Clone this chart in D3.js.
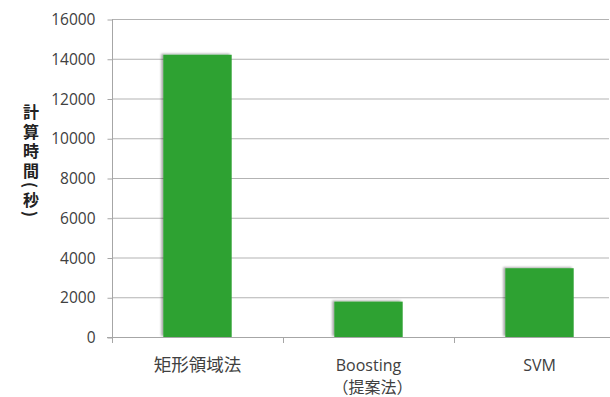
<!DOCTYPE html>
<html><head><meta charset="utf-8">
<script src="https://cdn.jsdelivr.net/npm/d3@7"></script>
<style>body{margin:0;background:#fff}svg{display:block}</style>
</head><body>
<script>
const categories = ["矩形領域法", "Boosting\n（提案法）", "SVM"];
const values = [14200, 1780, 3460];
const yTicks = [0, 2000, 4000, 6000, 8000, 10000, 12000, 14000, 16000];
const yLabel = "計算時間(秒)";

(function () {
const W = 610, H = 397;
const svg = d3.select("body").append("svg").attr("width", W).attr("height", H);
const defs = svg.append("defs");
const f = defs.append("filter").attr("id", "sh").attr("x", "-20%").attr("y", "-20%").attr("width", "140%").attr("height", "140%");
f.append("feDropShadow").attr("dx", -2).attr("dy", -1).attr("stdDeviation", 0.8).attr("flood-color", "#000").attr("flood-opacity", 0.35);

const pLeft = 112, pRight = 625, pTop = 19, pBottom = 337;
const x = d3.scaleBand().domain(categories).range([pLeft, pRight]).paddingInner(0.6).paddingOuter(0.3);
const y = d3.scaleLinear().domain([0, 16000]).range([pBottom, pTop]);

// gridlines
svg.append("g").selectAll("line").data(yTicks.filter(d => d > 0)).join("line")
  .attr("x1", pLeft).attr("x2", 609).attr("y1", d => y(d) + 0.5).attr("y2", d => y(d) + 0.5)
  .attr("stroke", "#b3b3b3").attr("stroke-width", 1);

// y axis
const yAxis = svg.append("g").attr("transform", `translate(${pLeft + 0.5},0)`)
  .call(d3.axisLeft(y).tickValues(yTicks).tickSize(5).tickPadding(12).tickFormat(d3.format("d")));
yAxis.select(".domain").remove();
yAxis.selectAll(".tick line").attr("stroke", "#a6a6a6").attr("transform", "translate(0,0.5)");
yAxis.selectAll(".tick text").attr("font-family", "'Open Sans', sans-serif").attr("font-size", 15.5).attr("fill", "#404040").attr("dy", "0.36em");
svg.append("line").attr("x1", pLeft + 0.5).attr("x2", pLeft + 0.5).attr("y1", pTop).attr("y2", pBottom + 6)
  .attr("stroke", "#a6a6a6");

// bars
svg.append("g").selectAll("rect").data(categories).join("rect")
  .attr("x", d => x(d)).attr("width", x.bandwidth())
  .attr("y", (d, i) => y(values[i])).attr("height", (d, i) => y(0) - y(values[i]))
  .attr("fill", "#2ea232").attr("filter", "url(#sh)");

// x axis
svg.append("line").attr("x1", pLeft - 5).attr("x2", W).attr("y1", pBottom + 0.5).attr("y2", pBottom + 0.5).attr("stroke", "#a6a6a6");
const boundaries = [pLeft + x.step(), pLeft + 2 * x.step()];
svg.append("g").selectAll("line").data(boundaries).join("line")
  .attr("x1", d => Math.round(d) + 0.5).attr("x2", d => Math.round(d) + 0.5).attr("y1", pBottom).attr("y2", pBottom + 6)
  .attr("stroke", "#a6a6a6");

// category labels
const lab = svg.append("g").selectAll("text").data(categories).join("text")
  .attr("text-anchor", "middle").attr("fill", "#404040");
lab.each(function (d) {
  const t = d3.select(this);
  const lines = d.split("\n");
  const cx = x(d) + x.bandwidth() / 2;
  lines.forEach((ln, i) => {
    const isCJK = /[\u3000-\u9fff\uff00-\uffef]/.test(ln);
    t.append("tspan").attr("x", cx + (i === 1 ? 4 : 0)).attr("y", 371 + i * 22)
      .attr("font-size", isCJK ? (i === 0 ? 17.5 : 16) : 16)
      .attr("font-family", isCJK ? "'Noto Sans CJK JP', sans-serif" : "'Open Sans', sans-serif")
      .text(ln);
  });
});

// y label (vertical writing)
svg.append("text")
  .attr("x", 31).attr("y", 104)
  .style("writing-mode", "vertical-rl")
  .attr("font-family", "'Noto Sans CJK JP', sans-serif").attr("font-weight", "bold")
  .attr("fill", "#222").attr("font-size", 16).attr("letter-spacing", 3.5)
  .text(yLabel);
})();
</script>
</body></html>
